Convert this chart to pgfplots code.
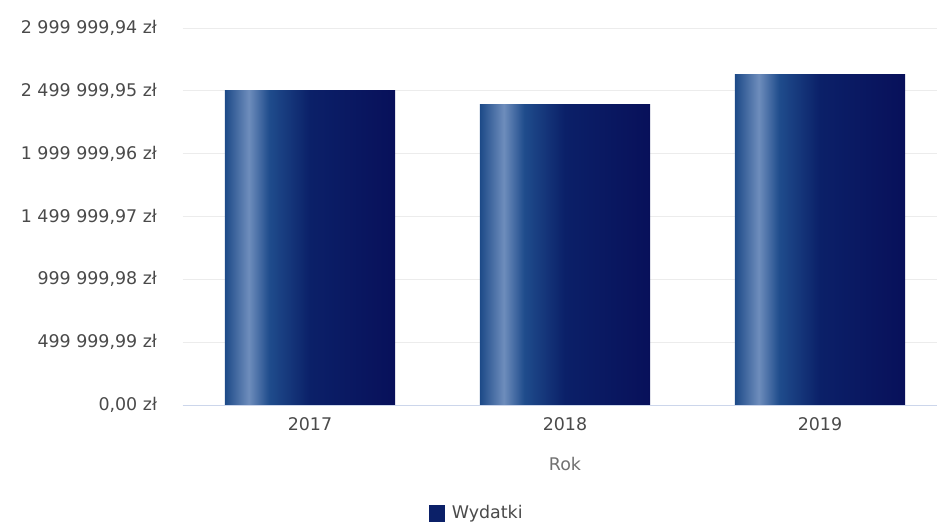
\documentclass[border=0pt]{standalone}
\usepackage{pgfplots}
\pgfplotsset{compat=1.18}
\usepackage{fontspec}
\setmainfont{DejaVu Sans}
\definecolor{txt}{HTML}{4A4A4A}
\definecolor{ttl}{HTML}{707070}
\definecolor{gridc}{HTML}{ECECEC}
\definecolor{axc}{HTML}{CCD6EB}
\definecolor{bA}{HTML}{1D4A88}
\definecolor{bB}{HTML}{6E8DBC}
\definecolor{bC}{HTML}{1F4C8C}
\definecolor{bD}{HTML}{0B2068}
\definecolor{bE}{HTML}{08105A}
\pgfdeclarehorizontalshading{barshade}{100bp}{color(0bp)=(bA); color(25bp)=(bA); color(32bp)=(bB); color(38bp)=(bC); color(50bp)=(bD); color(75bp)=(bE); color(100bp)=(bE)}
\begin{document}
\begin{tikzpicture}
\useasboundingbox (0,0) rectangle (937bp,525bp);
\begin{axis}[
  at={(182.5bp,120bp)}, anchor=south west,
  scale only axis, width=765bp, height=377bp,
  xmin=-0.5, xmax=2.5, ymin=0, ymax=2999999.94,
  scaled y ticks=false,
  xtick={0,1,2}, xticklabels={2017,2018,2019},
  ytick={0,499999.99,999999.98,1499999.97,1999999.96,2499999.95,2999999.94},
  yticklabels={{0,00 zł},{499 999,99 zł},{999 999,98 zł},{1 499 999,97 zł},{1 999 999,96 zł},{2 499 999,95 zł},{2 999 999,94 zł}},
  major tick length=0pt,
  axis line style={draw=none},
  axis x line*=bottom, axis y line*=left,
  ymajorgrids, grid style={gridc, line width=0.8bp},
  ticklabel style={font=\fontsize{17.5}{21}\selectfont, text=txt},
  yticklabel style={anchor=east, xshift=-22bp},
  xticklabel style={yshift=-9bp},
  xlabel={Rok}, xlabel style={font=\fontsize{17.5}{21}\selectfont, text=ttl, yshift=-20bp},
  legend style={at={(0.385,-0.286)}, anchor=center, draw=none, fill=none, font=\fontsize{17.5}{21}\selectfont, text=txt, inner sep=0pt},
  clip=false,
]
\addplot[ybar, bar width=0.667, bar shift=0pt, draw=none, shading=barshade, forget plot] coordinates {(0,2499000)};
\addplot[ybar, bar width=0.667, bar shift=0pt, draw=none, shading=barshade, forget plot] coordinates {(1,2395000)};
\addplot[ybar, bar width=0.667, bar shift=0pt, draw=none, shading=barshade, forget plot] coordinates {(2,2626000)};
\addlegendimage{legend image code/.code={\fill[bD] (0bp,-8bp) rectangle (15bp,8bp);}}
\addlegendentry{\hspace{5bp}Wydatki}
\draw[axc, line width=1bp] (axis cs:-0.5,0) -- (axis cs:2.5,0);
\end{axis}
\end{tikzpicture}
\end{document}
